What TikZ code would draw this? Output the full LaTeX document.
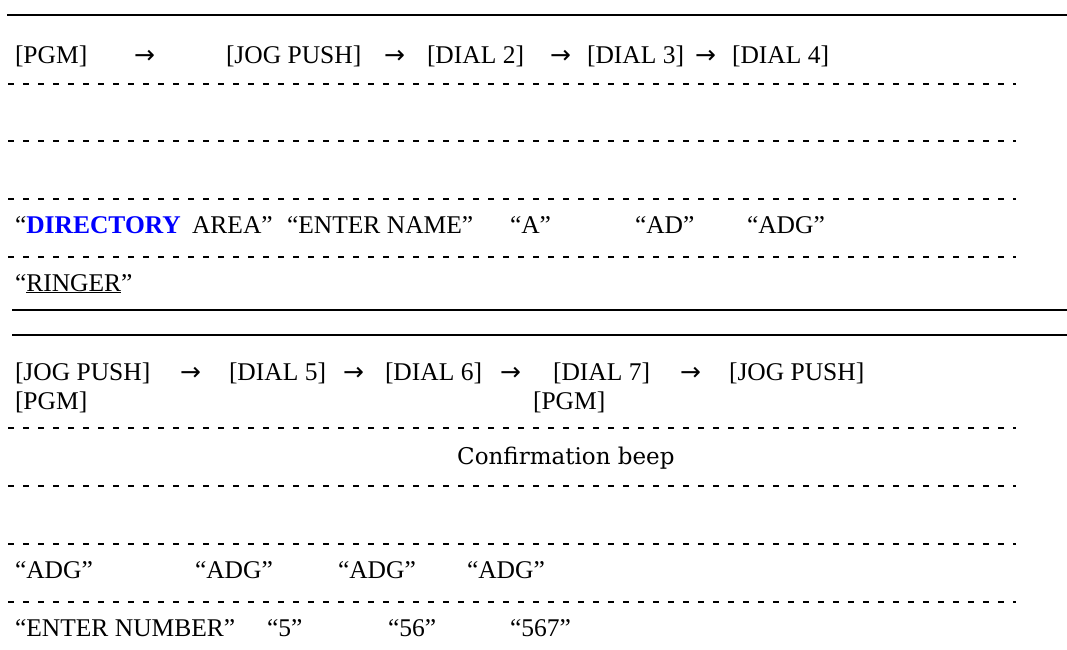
\documentclass[tikz,border=0pt]{standalone}
\usepackage{fontspec}
\setmainfont{Liberation Serif}
\newfontfamily\arrowfont{DejaVu Sans}
\newfontfamily\beepfont{DejaVu Serif}
\definecolor{dirblue}{RGB}{0,0,255}
\begin{document}
\begin{tikzpicture}[x=1pt,y=-1pt,
  txt/.style={anchor=base west,inner sep=0pt,outer sep=0pt,font=\fontsize{25.5}{30}\selectfont},
  arr/.style={anchor=base west,inner sep=0pt,outer sep=0pt,font=\arrowfont\fontsize{25}{30}\selectfont},
  rule/.style={line width=2pt},
  dline/.style={line width=1.3pt,dash pattern=on 6pt off 9pt}]
\useasboundingbox (0,0) rectangle (1067,649);
% ---------- block 1 ----------
\coordinate (t1a) at (7,15); \coordinate (t1b) at (1067,15);
\draw[rule] (t1a) -- (t1b);
\node[txt] (pgm1) at (15,63) {[PGM]};
\node[arr] (a1) at (134,63) {→};
\node[txt] (jog1) at (226,63) {[JOG PUSH]};
\node[arr] (a2) at (384,63) {→};
\node[txt] (d2) at (427,63) {[DIAL 2]};
\node[arr] (a3) at (550,63) {→};
\node[txt] (d3) at (587,63) {[DIAL 3]};
\node[arr] (a4) at (695,63) {→};
\node[txt] (d4) at (732,63) {[DIAL 4]};
\foreach \yy/\nm in {84/da,141/db,199/dc,257/dd}{
  \coordinate (\nm1) at (8,\yy); \coordinate (\nm2) at (1016,\yy);
  \draw[dline] (\nm1) -- (\nm2);}
\node[txt] (dir) at (15,233) {“\textcolor{dirblue}{\bfseries DIRECTORY}};
\node[txt] (area) at (192,233) {AREA”};
\node[txt] (ename) at (287,233) {“ENTER NAME”};
\node[txt] (sa) at (510,233) {“A”};
\node[txt] (sad) at (635,233) {“AD”};
\node[txt] (sadg) at (747,233) {“ADG”};
\node[txt] (ring) at (15,291) {“\underline{RINGER}”};
\coordinate (b1a) at (12,310); \coordinate (b1b) at (1067,310);
\draw[rule] (b1a) -- (b1b);
% ---------- block 2 ----------
\coordinate (t2a) at (12,335); \coordinate (t2b) at (1067,335);
\draw[rule] (t2a) -- (t2b);
\node[txt] (jog2) at (15,380) {[JOG PUSH]};
\node[arr] (b1) at (180,380) {→};
\node[txt] (d5) at (229,380) {[DIAL 5]};
\node[arr] (b2) at (343,380) {→};
\node[txt] (d6) at (385,380) {[DIAL 6]};
\node[arr] (b3) at (500,380) {→};
\node[txt] (d7) at (553,380) {[DIAL 7]};
\node[arr] (b4) at (680,380) {→};
\node[txt] (jog3) at (729,380) {[JOG PUSH]};
\node[txt] (pgm2) at (15,409) {[PGM]};
\node[txt] (pgm3) at (533,409) {[PGM]};
\foreach \yy/\nm in {428/de,486/df,544/dg,602/dh}{
  \coordinate (\nm1) at (8,\yy); \coordinate (\nm2) at (1016,\yy);
  \draw[dline] (\nm1) -- (\nm2);}
\node[anchor=base west,inner sep=0pt,font=\beepfont\fontsize{23}{27}\selectfont] (beep) at (457,464) {Confirmation beep};
\node[txt] (g1) at (15,578) {“ADG”};
\node[txt] (g2) at (195,578) {“ADG”};
\node[txt] (g3) at (338,578) {“ADG”};
\node[txt] (g4) at (467,578) {“ADG”};
\node[txt] (enum) at (15,636) {“ENTER NUMBER”};
\node[txt] (n5) at (267,636) {“5”};
\node[txt] (n56) at (388,636) {“56”};
\node[txt] (n567) at (510,636) {“567”};
\end{tikzpicture}
\end{document}
